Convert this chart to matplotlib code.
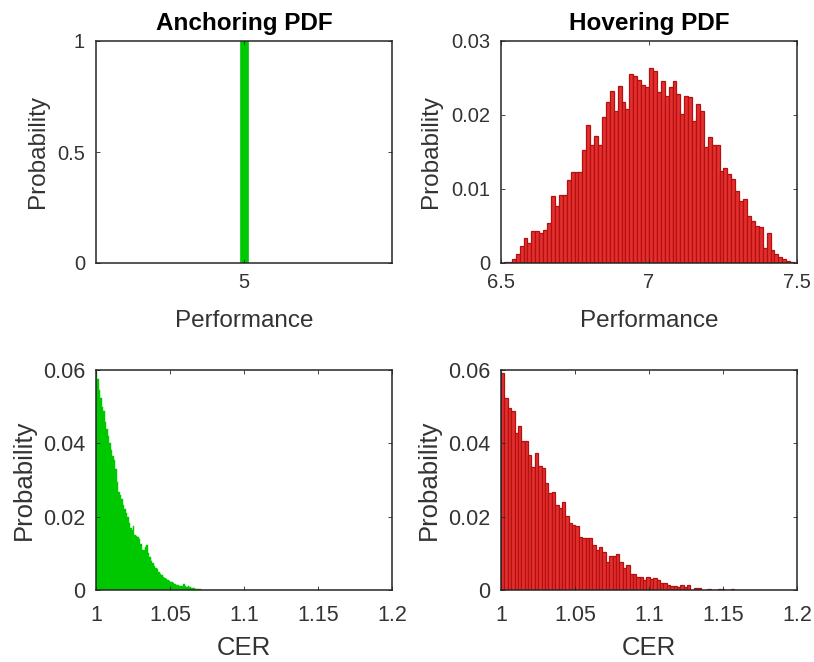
import numpy as np
import matplotlib
matplotlib.use('Agg')
import matplotlib.pyplot as plt

plt.rcParams['font.family'] = ['Liberation Sans', 'DejaVu Sans']

# anchoring: single performance value
anchor_perf = [5.0]
anchor_prob = [1.0]

# hovering performance histogram (probability per bin)
hover_perf_lo, hover_perf_hi = 6.51, 7.49
hover_perf = [0.0001, 0.0002, 0.0006, 0.0012, 0.0023, 0.0034, 0.0027, 0.0043, 0.0043, 0.0041,
              0.0045, 0.0054, 0.0090, 0.0077, 0.0092, 0.0092, 0.0112, 0.0123, 0.0123, 0.0123,
              0.0153, 0.0186, 0.0160, 0.0172, 0.0160, 0.0197, 0.0217, 0.0233, 0.0206, 0.0239,
              0.0217, 0.0208, 0.0255, 0.0253, 0.0247, 0.0240, 0.0238, 0.0264, 0.0259,
              0.0231, 0.0246, 0.0226, 0.0238, 0.0246, 0.0229, 0.0201, 0.0226, 0.0224, 0.0192,
              0.0215, 0.0206, 0.0157, 0.0170, 0.0160, 0.0160, 0.0125, 0.0128, 0.0120, 0.0114,
              0.0097, 0.0084, 0.0086, 0.0063, 0.0057, 0.0050, 0.0048, 0.0020, 0.0041, 0.0018,
              0.0012, 0.0008, 0.0005, 0.0003, 0.0001]

# CER histograms
anchor_cer_lo, anchor_cer_hi = 1.0, 1.072
anchor_cer = [0.0595, 0.0575, 0.0545, 0.0525, 0.0500, 0.0488, 0.0458, 0.0440, 0.0420, 0.0400,
              0.0382, 0.0365, 0.0355, 0.0330, 0.0295, 0.0268, 0.0258, 0.0248, 0.0232, 0.0222,
              0.0210, 0.0198, 0.0182, 0.0170, 0.0163, 0.0174, 0.0150, 0.0146, 0.0145, 0.0140,
              0.0125, 0.0110, 0.0108, 0.0118, 0.0122, 0.0100, 0.0090, 0.0080, 0.0074, 0.0066,
              0.0060, 0.0056, 0.0048, 0.0043, 0.0040, 0.0036, 0.0033, 0.0030, 0.0027, 0.0025,
              0.0023, 0.0021, 0.0019, 0.0017, 0.0015, 0.0013, 0.0011, 0.0012, 0.0010, 0.0016,
              0.0012, 0.0009, 0.0010, 0.0007, 0.0006, 0.0005, 0.0005, 0.0004, 0.0003, 0.0002,
              0.0002, 0.0001]

hover_cer_lo, hover_cer_hi = 1.0, 1.16
hover_cer = [0.0593, 0.0525, 0.0497, 0.0488, 0.0427, 0.0448, 0.0406, 0.0406, 0.0368, 0.0336,
             0.0373, 0.0338, 0.0332, 0.0291, 0.0265, 0.0268, 0.0232, 0.0223, 0.0241, 0.0202,
             0.0182, 0.0177, 0.0175, 0.0145, 0.0143, 0.0143, 0.0143, 0.0123, 0.0109, 0.0116,
             0.0105, 0.0077, 0.0094, 0.0094, 0.0098, 0.0077, 0.0059, 0.0068, 0.0045, 0.0044,
             0.0036, 0.0036, 0.0027, 0.0036, 0.0030, 0.0032, 0.0027, 0.0020, 0.0018, 0.0014,
             0.0011, 0.0011, 0.0007, 0.0014, 0.0007, 0.0014, 0.0, 0.0005, 0.0005, 0.0,
             0.0, 0.0004, 0.0, 0.0, 0.0004, 0.0004, 0.0, 0.0, 0.0004, 0.0]

GREEN = '#00c800'
RED_FACE = '#e3302f'
RED_EDGE = '#b3100f'
AX_COL = '#262626'
TXT_COL = '#333333'


def hist_bars(ax, lo, hi, vals, face, edge, lw):
    edges = np.linspace(lo, hi, len(vals) + 1)
    ax.bar(edges[:-1], vals, width=np.diff(edges), align='edge',
           color=face, edgecolor=edge, linewidth=lw)


def style(ax, xticks, xlabels, yticks, ylabels, xlabel, tsize, lsize, xpad, xlpad, ylpad):
    ax.set_xticks(xticks)
    ax.set_xticklabels(xlabels)
    ax.set_yticks(yticks)
    ax.set_yticklabels(ylabels)
    ax.tick_params(direction='in', top=True, right=True, length=3, width=0.6,
                   labelsize=tsize, colors=AX_COL, labelcolor=TXT_COL)
    ax.tick_params(axis='x', pad=xpad)
    ax.tick_params(axis='y', pad=8)
    for s in ax.spines.values():
        s.set_color(AX_COL)
        s.set_linewidth(1.1)
    ax.set_xlabel(xlabel, fontsize=lsize, color=TXT_COL, labelpad=xlpad)
    ax.set_ylabel('Probability', fontsize=lsize, color=TXT_COL, labelpad=ylpad)


fig = plt.figure(figsize=(8.14, 6.62), dpi=100)
W, H = 814, 662


def add_ax(x0, y0, x1, y1):
    return fig.add_axes([x0 / W, 1 - y1 / H, (x1 - x0) / W, (y1 - y0) / H])


ax1 = add_ax(96, 41, 392, 263)
ax2 = add_ax(501, 41, 797, 263)
ax3 = add_ax(96, 370, 392, 590)
ax4 = add_ax(501, 370, 797, 590)

# Anchoring PDF
ax1.bar(anchor_perf, anchor_prob, width=0.024, color=GREEN, edgecolor=GREEN, linewidth=0.5)
ax1.set_xlim(4.5, 5.5)
ax1.set_ylim(0, 1)
style(ax1, [5], ['5'], [0, 0.5, 1], ['0', '0.5', '1'], 'Performance',
      14.5, 17.5, 7, 13, 6)
ax1.set_title('Anchoring PDF', fontsize=17.5, fontweight='bold', color='black', pad=8)

# Hovering PDF
hist_bars(ax2, hover_perf_lo, hover_perf_hi, hover_perf, RED_FACE, RED_EDGE, 0.9)
ax2.set_xlim(6.5, 7.5)
ax2.set_ylim(0, 0.03)
style(ax2, [6.5, 7, 7.5], ['6.5', '7', '7.5'], [0, 0.01, 0.02, 0.03],
      ['0', '0.01', '0.02', '0.03'], 'Performance', 14.5, 17.5, 7, 13, 6)
ax2.set_title('Hovering PDF', fontsize=17.5, fontweight='bold', color='black', pad=8)

# CER
hist_bars(ax3, anchor_cer_lo, anchor_cer_hi, anchor_cer, GREEN, GREEN, 0.3)
ax3.set_xlim(1, 1.2)
ax3.set_ylim(0, 0.06)
style(ax3, [1, 1.05, 1.1, 1.15, 1.2], ['1', '1.05', '1.1', '1.15', '1.2'],
      [0, 0.02, 0.04, 0.06], ['0', '0.02', '0.04', '0.06'], 'CER', 15.5, 18.5, 11, 7, 5)

hist_bars(ax4, hover_cer_lo, hover_cer_hi, hover_cer, RED_FACE, RED_EDGE, 0.9)
ax4.set_xlim(1, 1.2)
ax4.set_ylim(0, 0.06)
style(ax4, [1, 1.05, 1.1, 1.15, 1.2], ['1', '1.05', '1.1', '1.15', '1.2'],
      [0, 0.02, 0.04, 0.06], ['0', '0.02', '0.04', '0.06'], 'CER', 15.5, 18.5, 11, 7, 5)

fig.savefig('out.png', dpi=100)
